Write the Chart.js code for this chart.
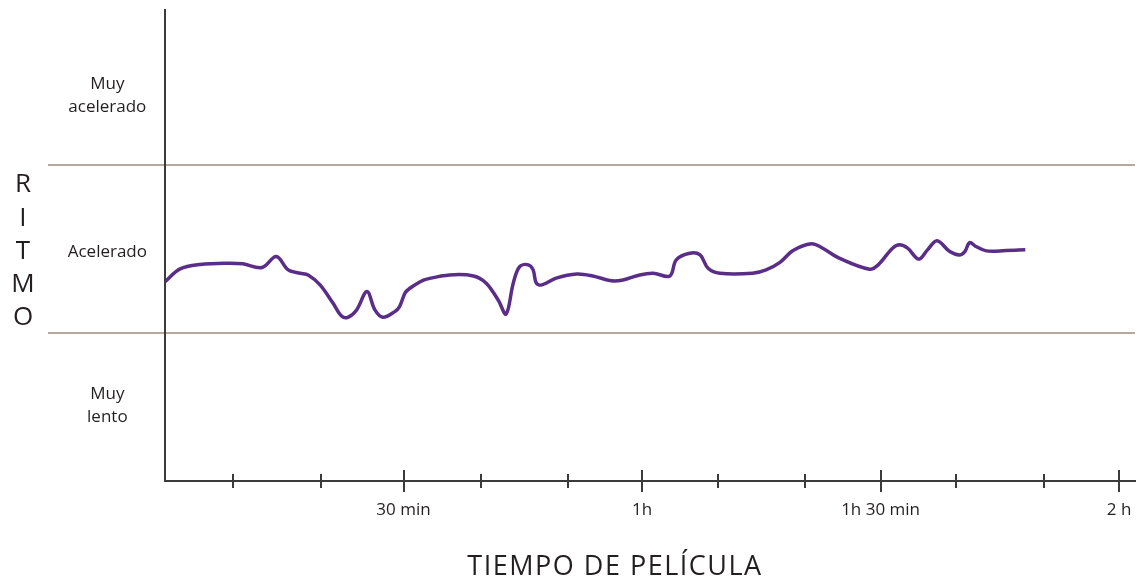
<!DOCTYPE html>
<html lang="es">
<head>
<meta charset="UTF-8">
<title>Ritmo de la película</title>
<script src="https://cdn.jsdelivr.net/npm/chart.js@4.4.1/dist/chart.umd.min.js"></script>
<style>
  html, body { margin: 0; padding: 0; background: #ffffff; }
</style>
</head>
<body>
<canvas id="ritmoChart" width="1147" height="586"></canvas>
<script>
// Data - minute of the film and pace level (1 = limit lento/acelerado, 2 = limit acelerado/muy acelerado)
const minutos = [0, 1.9, 4.4, 7.8, 9.8, 12.2, 14.0, 15.5, 17.0, 18.0, 19.5, 21.1, 22.2, 23.0, 24.1, 25.4, 26.4, 27.4, 28.9, 29.5,
    30.2, 30.8, 32.1, 32.9, 35.8, 38.8, 40.4, 41.9, 42.9, 43.8, 44.6, 45.7, 46.3, 46.7, 47.4, 49.2, 51.8, 53.8, 56.2, 57.6,
    59.7, 61.4, 63.5, 64.3, 66.0, 67.3, 68.3, 69.8, 73.9, 75.6, 77.3, 79.0, 81.3, 82.5, 84.8, 88.6, 89.7, 91.5, 92.4, 93.4,
    94.8, 95.9, 97.1, 98.7, 99.9, 100.6, 101.2, 102.0, 103.3, 105.8, 108.2];
const ritmo = [1.305, 1.381, 1.407, 1.415, 1.411, 1.389, 1.454, 1.375, 1.355, 1.345, 1.286, 1.179, 1.101, 1.093, 1.137, 1.246, 1.137, 1.093, 1.127, 1.157,
    1.238, 1.266, 1.305, 1.320, 1.345, 1.339, 1.296, 1.196, 1.113, 1.296, 1.395, 1.405, 1.375, 1.296, 1.286, 1.326, 1.351, 1.339, 1.310, 1.315,
    1.345, 1.355, 1.339, 1.435, 1.474, 1.464, 1.385, 1.355, 1.355, 1.375, 1.418, 1.490, 1.530, 1.510, 1.445, 1.379, 1.405, 1.504, 1.524, 1.504,
    1.439, 1.494, 1.548, 1.484, 1.464, 1.484, 1.537, 1.514, 1.488, 1.490, 1.494];

// X axis ticks (minutes) and their labels
const tickMinutos = [8.5, 19.6, 30, 39.7, 50.7, 60, 69.5, 80.5, 90, 99.5, 110.6, 120];
const tickEtiquetas = ['', '', '30 min', '', '', '1h', '', '', '1h 30 min', '', '', '2 h'];

// Y axis - pace zones
const zonaValores = [2.41, 1.48, 0.57];
const zonaEtiquetas = [['Muy', 'acelerado'], 'Acelerado', ['Muy', 'lento']];
const limitesZona = [1, 2];

// Axis titles
const tituloY = 'RITMO';
const tituloX = 'TIEMPO DE PELÍCULA';

const FONT = "'Open Sans', 'DejaVu Sans', sans-serif";
const AXIS_COLOR = '#3b3b3b';
const TEXT_COLOR = '#231f20';

// Plugin - zone limits, crossing tick marks and axis titles
const ritmoPlugin = {
    id: 'ritmoDecor',
    beforeDraw(chart) {
        const { ctx, chartArea, scales: { y } } = chart;
        ctx.save();
        ctx.strokeStyle = '#b8a8a3';
        ctx.lineWidth = 2;
        limitesZona.forEach((v) => {
            const py = Math.round(y.getPixelForValue(v));
            ctx.beginPath();
            ctx.moveTo(48, py);
            ctx.lineTo(chartArea.right, py);
            ctx.stroke();
        });
        ctx.restore();
    },
    afterDraw(chart) {
        const { ctx, chartArea, scales: { x } } = chart;
        ctx.save();

        // Tick marks cross the axis line, longer ones where there is a label
        ctx.strokeStyle = AXIS_COLOR;
        ctx.lineWidth = 2;
        x.ticks.forEach((tick, i) => {
            const px = Math.round(x.getPixelForValue(tick.value));
            const len = tickEtiquetas[i] ? 11 : 7;
            ctx.beginPath();
            ctx.moveTo(px, chartArea.bottom - len);
            ctx.lineTo(px, chartArea.bottom + len);
            ctx.stroke();
        });

        // Vertical title, one letter under the other
        ctx.fillStyle = TEXT_COLOR;
        ctx.font = `26px ${FONT}`;
        ctx.textAlign = 'center';
        ctx.textBaseline = 'middle';
        tituloY.split('').forEach((letra, i) => {
            ctx.fillText(letra, 23, 185 + i * 33.2);
        });

        // Bottom title
        ctx.font = `27px ${FONT}`;
        ctx.letterSpacing = '1.5px';
        ctx.fillText(tituloX, 615, 567);
        ctx.restore();
    }
};

const ctx = document.getElementById('ritmoChart');

new Chart(ctx, {
    type: 'line',
    data: {
        datasets: [{
            label: 'Ritmo',
            data: minutos.map((m, i) => ({ x: m, y: ritmo[i] })),
            borderColor: '#5a2e88',
            borderWidth: 3.5,
            pointRadius: 0,
            fill: false,
            tension: 0.35
        }]
    },
    options: {
        responsive: false,
        animation: false,
        devicePixelRatio: 1,
        layout: {
            padding: { top: 10, right: 12, left: 0, bottom: 0 }
        },
        plugins: {
            legend: { display: false },
            tooltip: { enabled: false }
        },
        scales: {
            x: {
                type: 'linear',
                min: 0,
                max: 122,
                afterBuildTicks: (scale) => {
                    scale.ticks = tickMinutos.map((v) => ({ value: v }));
                },
                afterFit: (scale) => {
                    scale.height = 105;
                    scale.paddingLeft = 0;
                    scale.paddingRight = 0;
                },
                grid: { display: false, drawTicks: false },
                border: { color: AXIS_COLOR, width: 2 },
                ticks: {
                    autoSkip: false,
                    maxRotation: 0,
                    padding: 19,
                    color: TEXT_COLOR,
                    font: { family: FONT, size: 17 },
                    callback: (value, index) => tickEtiquetas[index]
                }
            },
            y: {
                type: 'linear',
                min: 0.12,
                max: 2.92,
                afterBuildTicks: (scale) => {
                    scale.ticks = zonaValores.map((v) => ({ value: v }));
                },
                afterFit: (scale) => {
                    scale.width = 165;
                    scale.paddingTop = 0;
                    scale.paddingBottom = 0;
                },
                grid: { display: false, drawTicks: false },
                border: { color: AXIS_COLOR, width: 2 },
                ticks: {
                    crossAlign: 'center',
                    padding: 18,
                    color: TEXT_COLOR,
                    font: { family: FONT, size: 17, lineHeight: 1.35 },
                    callback: (value, index) => zonaEtiquetas[index]
                }
            }
        }
    },
    plugins: [ritmoPlugin]
});
</script>
</body>
</html>
